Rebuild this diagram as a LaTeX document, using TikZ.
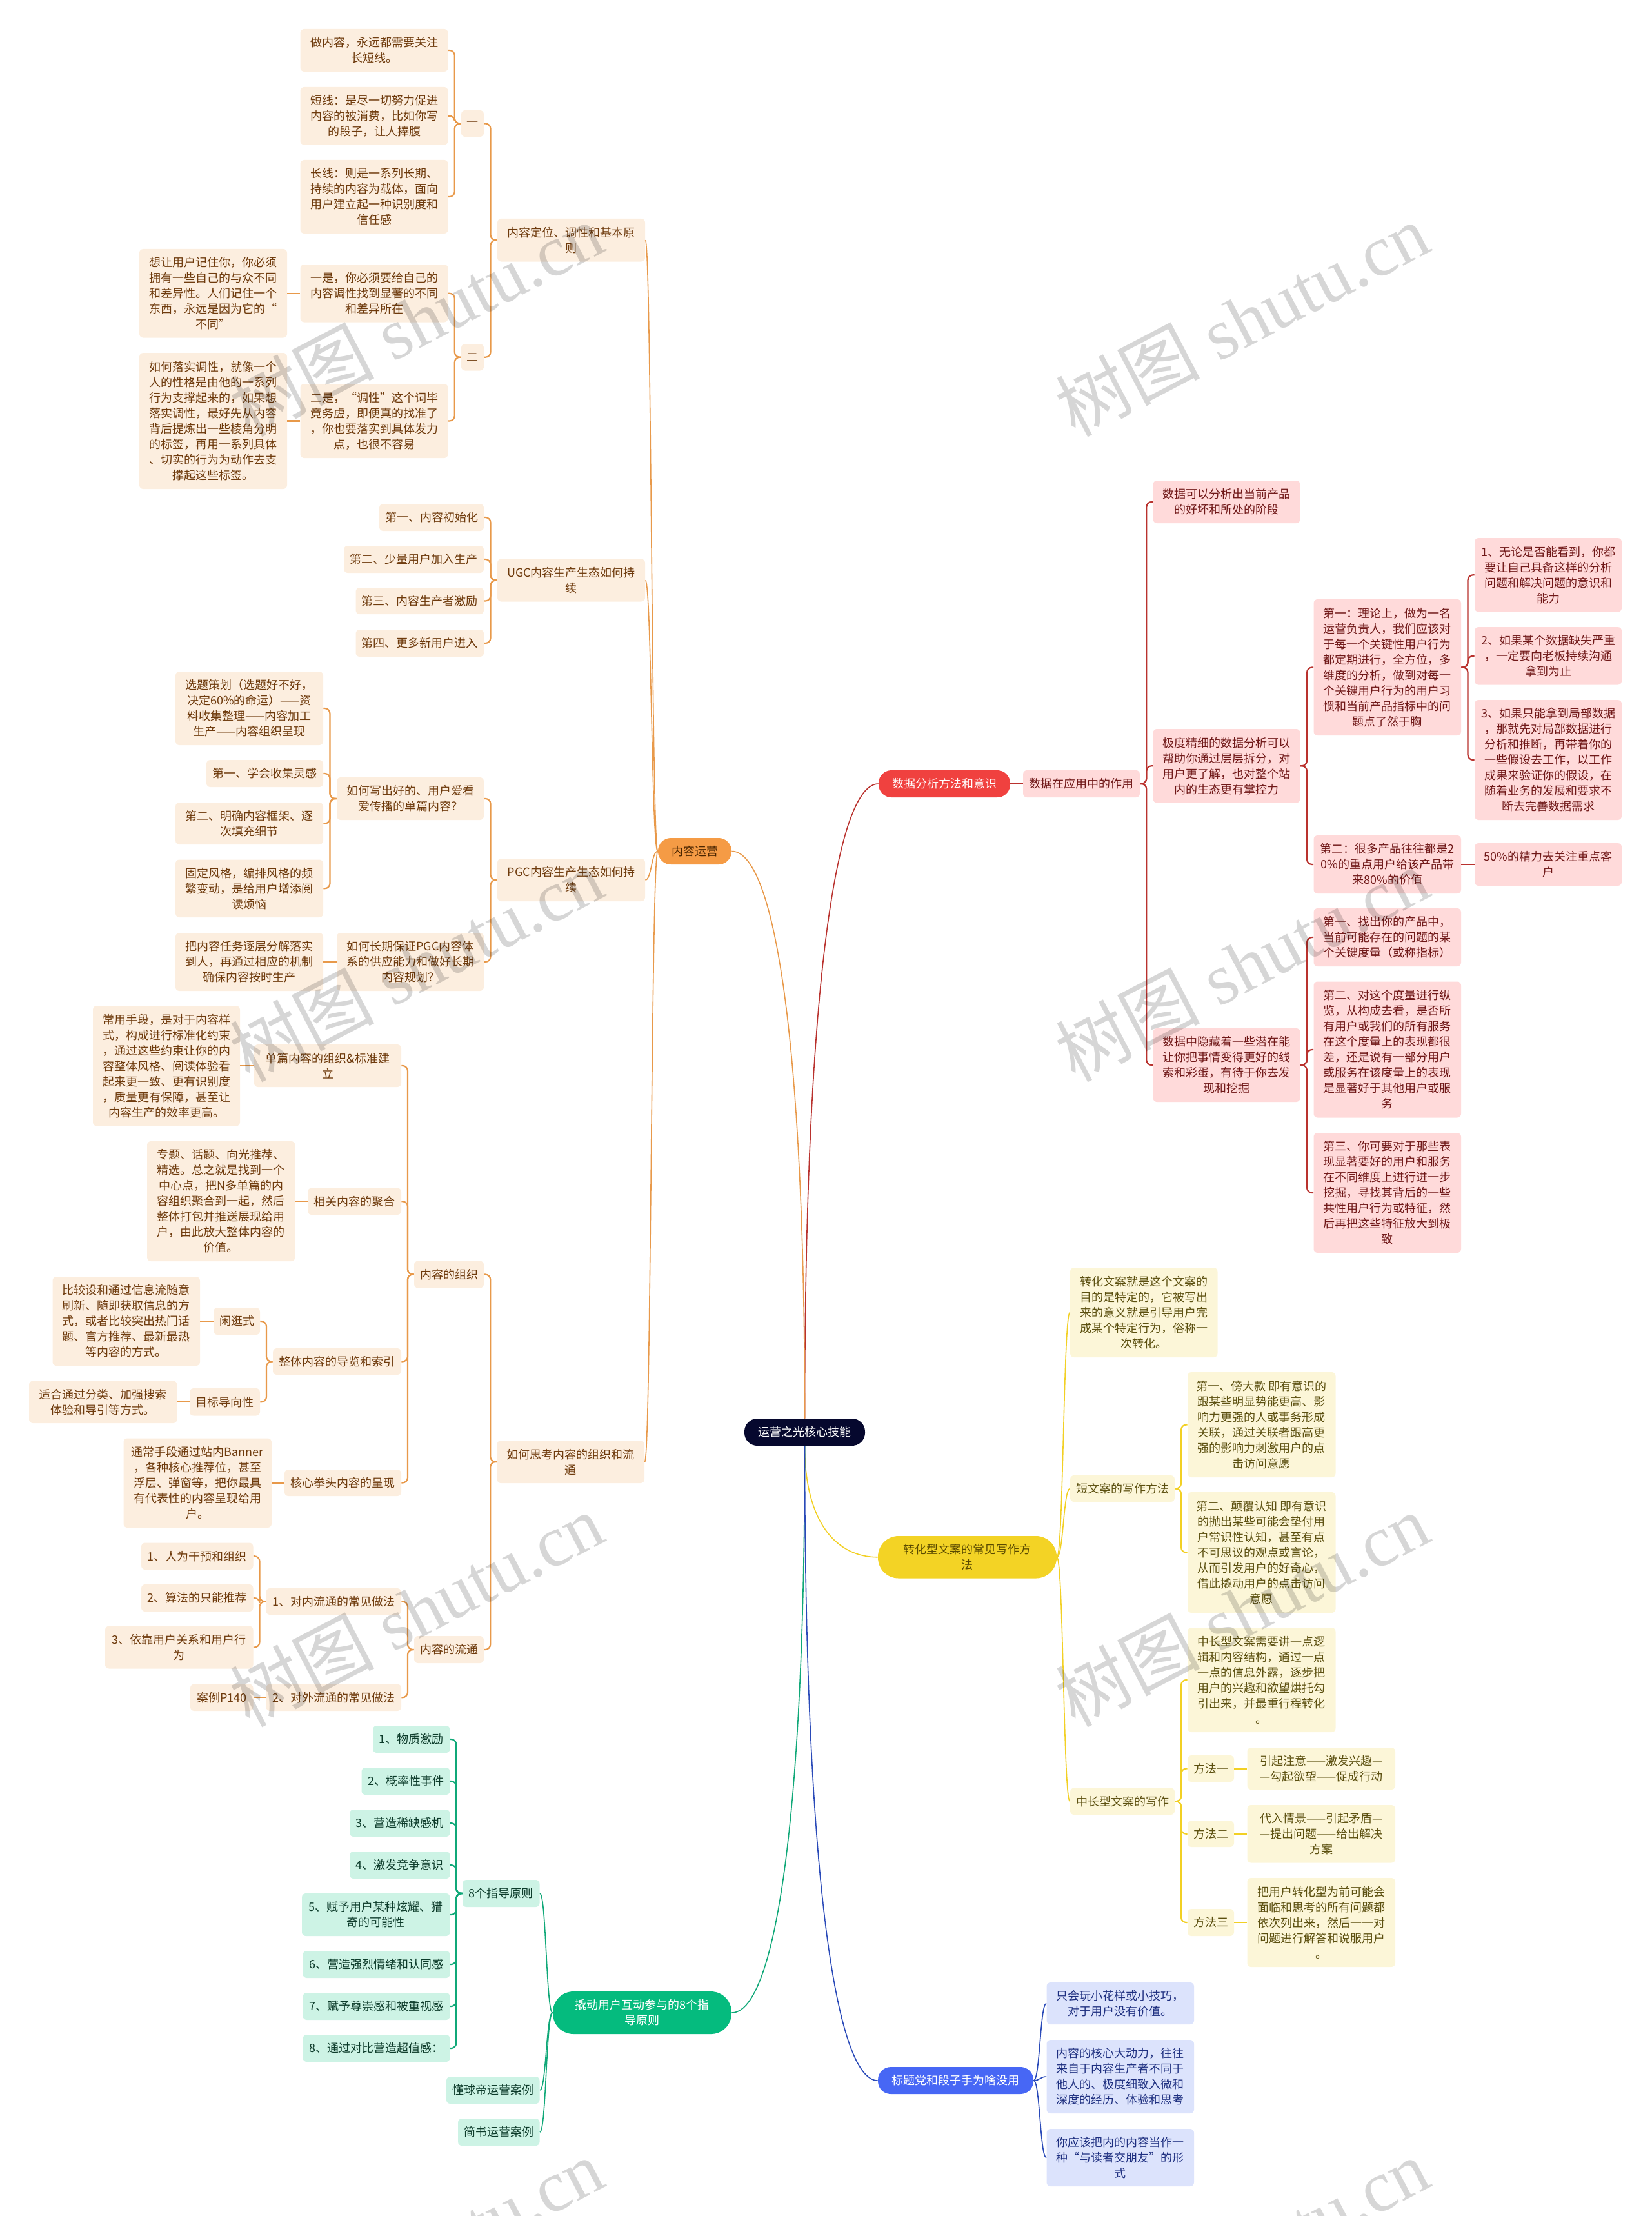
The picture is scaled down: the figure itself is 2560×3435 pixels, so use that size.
\documentclass[tikz,border=0pt]{standalone}
\usepackage{fontspec}
\usetikzlibrary{calc}
\setmainfont{Noto Sans CJK SC}
\newfontfamily\wmlat{Liberation Serif}
\newfontfamily\wmcjk{Noto Sans CJK SC}
\definecolor{oLine}{HTML}{E8994A}\definecolor{oBox}{HTML}{FCEEDF}\definecolor{oText}{HTML}{6E3A0C}\definecolor{oMain}{HTML}{F59B45}\definecolor{oMainT}{HTML}{4A2500}
\definecolor{rLine}{HTML}{B9322E}\definecolor{rBox}{HTML}{FFDADA}\definecolor{rText}{HTML}{701818}\definecolor{rMain}{HTML}{F0413F}
\definecolor{yLine}{HTML}{F2D024}\definecolor{yBox}{HTML}{FCF6D8}\definecolor{yText}{HTML}{5C5010}\definecolor{yMain}{HTML}{F3D325}\definecolor{yMainT}{HTML}{5A4A00}
\definecolor{bLine}{HTML}{2A4AB8}\definecolor{bBox}{HTML}{DCE3FC}\definecolor{bText}{HTML}{1E2F80}\definecolor{bMain}{HTML}{4767F5}
\definecolor{gLine}{HTML}{10A878}\definecolor{gBox}{HTML}{CDF3E5}\definecolor{gText}{HTML}{0C3B2A}\definecolor{gMain}{HTML}{05BB7E}
\definecolor{rootC}{HTML}{06082E}
\tikzset{
 bx/.style={inner sep=0pt,align=center,font=\fontsize{9}{12}\selectfont,rounded corners=3pt},
 ob/.style={bx,fill=oBox,text=oText},
 rb/.style={bx,fill=rBox,text=rText},
 yb/.style={bx,fill=yBox,text=yText},
 bb/.style={bx,fill=bBox,text=bText},
 gb/.style={bx,fill=gBox,text=gText},
 pillA/.style={bx,rounded corners=10pt},
 pillB/.style={bx,rounded corners=16pt},
 wm/.style={text=black,text opacity=.16,rotate=27.6,inner sep=0pt},
 lnk/.style={line width=1.1pt,rounded corners=4pt},
 crv/.style={line width=.8pt},
}
% box by its pixel corners: name, x0, y0, x1, y1, style, text
\newcommand{\bxn}[7]{\node[#6,minimum width={(#4-#2)*0.5pt},minimum height={(#5-#3)*0.5pt}] (#1) at ({(#2+#4)/2},{(#3+#5)/2}) {#7};}
\newcommand{\lk}[3]{\draw[lnk,draw=#1] (#2) -- ($(#2)!.5!(#3 |- #2)$) |- (#3);}
\newcommand{\st}[3]{\draw[line width=1.1pt,draw=#1] (#2) -- (#2 -| #3);}
\newcommand{\cv}[3]{\draw[crv,draw=#1] (#2) .. controls ($(#2)!.5!(#3 |- #2)$) and ($(#3)!.5!(#2 |- #3)$) .. (#3);}
\newcommand{\rc}[3]{\draw[crv,draw=#1] (#2) .. controls ($(#2)!.7!(#2 |- #3)$) and ($(#3)!.55!(#2 |- #3)$) .. (#3);}
\begin{document}
\begin{tikzpicture}[x=0.5pt,y=-0.5pt]
\useasboundingbox (0,0) rectangle (2560,3435);
\clip (0,0) rectangle (2560,3435);
% root
\bxn{root}{1154}{2199}{1341}{2241}{bx,pillA,fill=rootC,text=white}{运营之光核心技能}
% ORANGE
\bxn{o0}{1020}{1299}{1134}{1340}{pillA,fill=oMain,text=oMainT}{内容运营}
\bxn{oa}{771}{339}{1000}{405.5}{ob}{内容定位、调性和基本原\\则}
\bxn{oa1}{715}{171}{750}{212}{ob}{一}
\bxn{oa11}{465.5}{45}{694.5}{111}{ob}{做内容，永远都需要关注\\长短线。}
\bxn{oa12}{465.5}{135}{694.5}{224.5}{ob}{短线：是尽一切努力促进\\内容的被消费，比如你写\\的段子，让人捧腹}
\bxn{oa13}{465.5}{248}{694.5}{362}{ob}{长线：则是一系列长期、\\持续的内容为载体，面向\\用户建立起一种识别度和\\信任感}
\bxn{oa2}{715}{533}{750}{574.5}{ob}{二}
\bxn{oa21}{465.5}{410}{694.5}{499.5}{ob}{一是，你必须要给自己的\\内容调性找到显著的不同\\和差异所在}
\bxn{oa211}{216}{386}{445}{523.5}{ob}{想让用户记住你，你必须\\拥有一些自己的与众不同\\和差异性。人们记住一个\\东西，永远是因为它的“\\不同”}
\bxn{oa22}{465.5}{595}{694.5}{710}{ob}{二是，“调性”这个词毕\\竟务虚，即便真的找准了\\，你也要落实到具体发力\\点，也很不容易}
\bxn{oa221}{216}{547}{445}{758}{ob}{如何落实调性，就像一个\\人的性格是由他的一系列\\行为支撑起来的，如果想\\落实调性，最好先从内容\\背后提炼出一些棱角分明\\的标签，再用一系列具体\\、切实的行为为动作去支\\撑起这些标签。}
\bxn{ob}{771}{866.5}{1000}{932.5}{ob}{UGC内容生产生态如何持\\续}
\bxn{ob1}{588}{781}{750}{823}{ob}{第一、内容初始化}
\bxn{ob2}{533}{846}{750}{888}{ob}{第二、少量用户加入生产}
\bxn{ob3}{551.5}{911}{750}{952}{ob}{第三、内容生产者激励}
\bxn{ob4}{551.5}{976}{750}{1018}{ob}{第四、更多新用户进入}
\bxn{oc}{771}{1331}{1000}{1397}{ob}{PGC内容生产生态如何持\\续}
\bxn{oc1}{522}{1205}{750}{1271}{ob}{如何写出好的、用户爱看\\爱传播的单篇内容？}
\bxn{oc11}{272}{1041}{501}{1155}{ob}{选题策划（选题好不好，\\决定60\%的命运）——资\\料收集整理——内容加工\\生产——内容组织呈现}
\bxn{oc12}{320}{1178}{501}{1220}{ob}{第一、学会收集灵感}
\bxn{oc13}{272}{1244}{501}{1309}{ob}{第二、明确内容框架、逐\\次填充细节}
\bxn{oc14}{272}{1332.5}{501}{1422}{ob}{固定风格，编排风格的频\\繁变动，是给用户增添阅\\读烦恼}
\bxn{oc2}{522}{1446}{750}{1536}{ob}{如何长期保证PGC内容体\\系的供应能力和做好长期\\内容规划？}
\bxn{oc21}{272}{1446}{501}{1536}{ob}{把内容任务逐层分解落实\\到人，再通过相应的机制\\确保内容按时生产}
\bxn{od}{770.5}{2233}{999}{2299}{ob}{如何思考内容的组织和流\\通}
\bxn{od1}{642}{1954.5}{750}{1996.5}{ob}{内容的组织}
\bxn{od11}{394}{1619}{622}{1685}{ob}{单篇内容的组织\&标准建\\立}
\bxn{od111}{144}{1559}{372}{1745.5}{ob}{常用手段，是对于内容样\\式，构成进行标准化约束\\，通过这些约束让你的内\\容整体风格、阅读体验看\\起来更一致、更有识别度\\，质量更有保障，甚至让\\内容生产的效率更高。}
\bxn{od12}{477}{1841.5}{622}{1883}{ob}{相关内容的聚合}
\bxn{od121}{228}{1769}{457.5}{1955}{ob}{专题、话题、向光推荐、\\精选。总之就是找到一个\\中心点，把N多单篇的内\\容组织聚合到一起，然后\\整体打包并推送展现给用\\户，由此放大整体内容的\\价值。}
\bxn{od13}{423}{2090}{622}{2131}{ob}{整体内容的导览和索引}
\bxn{od131}{331}{2027}{403}{2069}{ob}{闲逛式}
\bxn{od1311}{81.5}{1979}{310}{2117}{ob}{比较设和通过信息流随意\\刷新、随即获取信息的方\\式，或者比较突出热门话\\题、官方推荐、最新最热\\等内容的方式。}
\bxn{od132}{294}{2152}{403}{2194.5}{ob}{目标导向性}
\bxn{od1321}{45}{2140.5}{274.5}{2206}{ob}{适合通过分类、加强搜索\\体验和导引等方式。}
\bxn{od14}{441}{2278}{622}{2319}{ob}{核心拳头内容的呈现}
\bxn{od141}{191.5}{2229.5}{421}{2368}{ob}{通常手段通过站内Banner\\，各种核心推荐位，甚至\\浮层、弹窗等，把你最具\\有代表性的内容呈现给用\\户。}
\bxn{od2}{642}{2536}{750}{2578}{ob}{内容的流通}
\bxn{od21}{412.5}{2462}{622}{2503}{ob}{1、对内流通的常见做法}
\bxn{od211}{219}{2391.5}{392.5}{2433}{ob}{1、人为干预和组织}
\bxn{od212}{219}{2456}{392.5}{2498}{ob}{2、算法的只能推荐}
\bxn{od213}{163}{2520.5}{392.5}{2586.5}{ob}{3、依靠用户关系和用户行\\为}
\bxn{od22}{412.5}{2610.5}{622}{2652}{ob}{2、对外流通的常见做法}
\bxn{od221}{295}{2610.5}{392.5}{2652}{ob}{案例P140}
% GREEN
\bxn{g0}{857}{3087}{1134}{3153}{pillB,fill=gMain,text=white}{撬动用户互动参与的8个指\\导原则}
\bxn{ga}{717}{2914}{836.5}{2956}{gb}{8个指导原则}
\bxn{ga1}{578}{2675}{697.5}{2717}{gb}{1、物质激励}
\bxn{ga2}{560.5}{2740}{697.5}{2782}{gb}{2、概率性事件}
\bxn{ga3}{542}{2805}{697.5}{2847}{gb}{3、营造稀缺感机}
\bxn{ga4}{542}{2870}{697.5}{2912}{gb}{4、激发竞争意识}
\bxn{ga5}{468}{2935}{697.5}{3001}{gb}{5、赋予用户某种炫耀、猎\\奇的可能性}
\bxn{ga6}{469.5}{3024}{697.5}{3066}{gb}{6、营造强烈情绪和认同感}
\bxn{ga7}{469.5}{3089}{697.5}{3131}{gb}{7、赋予尊崇感和被重视感}
\bxn{ga8}{469.5}{3154}{697.5}{3196}{gb}{8、通过对比营造超值感：}
\bxn{gb1}{692}{3219}{836.5}{3261}{gb}{懂球帝运营案例}
\bxn{gc1}{710}{3284}{836.5}{3326}{gb}{简书运营案例}
% RED
\bxn{r0}{1362}{1194}{1566}{1236}{pillA,fill=rMain,text=white}{数据分析方法和意识}
\bxn{ra}{1586}{1194}{1767}{1236}{rb}{数据在应用中的作用}
\bxn{ra1}{1787.5}{745}{2015.5}{811}{rb}{数据可以分析出当前产品\\的好坏和所处的阶段}
\bxn{ra2}{1787.5}{1130}{2015.5}{1244.5}{rb}{极度精细的数据分析可以\\帮助你通过层层拆分，对\\用户更了解，也对整个站\\内的生态更有掌控力}
\bxn{ra21}{2036.5}{929}{2265}{1140}{rb}{第一：理论上，做为一名\\运营负责人，我们应该对\\于每一个关键性用户行为\\都定期进行，全方位，多\\维度的分析，做到对每一\\个关键用户行为的用户习\\惯和当前产品指标中的问\\题点了然于胸}
\bxn{ra211}{2286}{834}{2514}{948.5}{rb}{1、无论是否能看到，你都\\要让自己具备这样的分析\\问题和解决问题的意识和\\能力}
\bxn{ra212}{2286}{972}{2514}{1061.5}{rb}{2、如果某个数据缺失严重\\，一定要向老板持续沟通\\拿到为止}
\bxn{ra213}{2286}{1085}{2514}{1271}{rb}{3、如果只能拿到局部数据\\，那就先对局部数据进行\\分析和推断，再带着你的\\一些假设去工作，以工作\\成果来验证你的假设，在\\随着业务的发展和要求不\\断去完善数据需求}
\bxn{ra22}{2036.5}{1295}{2265}{1385}{rb}{第二：很多产品往往都是2\\0\%的重点用户给该产品带\\来80\%的价值}
\bxn{ra221}{2286}{1307}{2514}{1373}{rb}{50\%的精力去关注重点客\\户}
\bxn{ra3}{1787.5}{1594}{2015.5}{1708}{rb}{数据中隐藏着一些潜在能\\让你把事情变得更好的线\\索和彩蛋，有待于你去发\\现和挖掘}
\bxn{ra31}{2036.5}{1408}{2265}{1498}{rb}{第一、找出你的产品中，\\当前可能存在的问题的某\\个关键度量（或称指标）}
\bxn{ra32}{2036.5}{1521.5}{2265}{1732.5}{rb}{第二、对这个度量进行纵\\览，从构成去看，是否所\\有用户或我们的所有服务\\在这个度量上的表现都很\\差，还是说有一部分用户\\或服务在该度量上的表现\\是显著好于其他用户或服\\务}
\bxn{ra33}{2036.5}{1756}{2265}{1942}{rb}{第三、你可要对于那些表\\现显著要好的用户和服务\\在不同维度上进行进一步\\挖掘，寻找其背后的一些\\共性用户行为或特征，然\\后再把这些特征放大到极\\致}
% YELLOW
\bxn{y0}{1361}{2381}{1638}{2446.5}{pillB,fill=yMain,text=yMainT}{转化型文案的常见写作方\\法}
\bxn{ya}{1659}{1965}{1887.5}{2104}{yb}{转化文案就是这个文案的\\目的是特定的，它被写出\\来的意义就是引导用户完\\成某个特定行为，俗称一\\次转化。}
\bxn{yb0}{1659}{2287}{1821}{2328}{yb}{短文案的写作方法}
\bxn{yb1}{1841}{2127}{2070.5}{2290}{yb}{第一、傍大款 即有意识的\\跟某些明显势能更高、影\\响力更强的人或事务形成\\关联，通过关联者跟高更\\强的影响力刺激用户的点\\击访问意愿}
\bxn{yb2}{1841}{2313}{2070.5}{2500}{yb}{第二、颠覆认知 即有意识\\的抛出某些可能会垫付用\\户常识性认知，甚至有点\\不可思议的观点或言论，\\从而引发用户的好奇心，\\借此撬动用户的点击访问\\意愿}
\bxn{yc}{1659}{2771.5}{1821}{2813}{yb}{中长型文案的写作}
\bxn{yc1}{1841}{2523}{2070.5}{2685}{yb}{中长型文案需要讲一点逻\\辑和内容结构，通过一点\\一点的信息外露，逐步把\\用户的兴趣和欲望烘托勾\\引出来，并最重行程转化\\。}
\bxn{yc2}{1841}{2721}{1913}{2762}{yb}{方法一}
\bxn{yc21}{1933.5}{2709}{2163}{2774}{yb}{引起注意——激发兴趣—\\—勾起欲望——促成行动}
\bxn{yc3}{1841}{2822.5}{1913}{2863}{yb}{方法二}
\bxn{yc31}{1933.5}{2798}{2163}{2887.5}{yb}{代入情景——引起矛盾—\\—提出问题——给出解决\\方案}
\bxn{yc4}{1841}{2959}{1913}{3001}{yb}{方法三}
\bxn{yc41}{1933.5}{2911}{2163}{3049}{yb}{把用户转化型为前可能会\\面临和思考的所有问题都\\依次列出来，然后一一对\\问题进行解答和说服用户\\。}
% BLUE
\bxn{b0}{1361}{3204}{1602}{3246}{pillA,fill=bMain,text=white}{标题党和段子手为啥没用}
\bxn{b1}{1622.5}{3073}{1851}{3138}{bb}{只会玩小花样或小技巧，\\对于用户没有价值。}
\bxn{b2}{1622.5}{3162}{1851}{3276}{bb}{内容的核心大动力，往往\\来自于内容生产者不同于\\他人的、极度细致入微和\\深度的经历、体验和思考}
\bxn{b3}{1622.5}{3300}{1851}{3389}{bb}{你应该把内的内容当作一\\种“与读者交朋友”的形\\式}
% root links
\rc{rLine}{root.north}{r0.west}
\rc{oLine}{root.north}{o0.east}
\rc{yLine}{root.south}{y0.west}
\rc{gLine}{root.south}{g0.east}
\rc{bLine}{root.south}{b0.west}
% orange links
\cv{oLine}{o0.west}{oa.east}\cv{oLine}{o0.west}{ob.east}\cv{oLine}{o0.west}{oc.east}\cv{oLine}{o0.west}{od.east}
\lk{oLine}{oa.west}{oa1.east}\lk{oLine}{oa.west}{oa2.east}
\lk{oLine}{oa1.west}{oa11.east}\lk{oLine}{oa1.west}{oa12.east}\lk{oLine}{oa1.west}{oa13.east}
\lk{oLine}{oa2.west}{oa21.east}\lk{oLine}{oa2.west}{oa22.east}
\st{oLine}{oa21.west}{oa211.east}\st{oLine}{oa22.west}{oa221.east}
\lk{oLine}{ob.west}{ob1.east}\lk{oLine}{ob.west}{ob2.east}\lk{oLine}{ob.west}{ob3.east}\lk{oLine}{ob.west}{ob4.east}
\lk{oLine}{oc.west}{oc1.east}\lk{oLine}{oc.west}{oc2.east}
\lk{oLine}{oc1.west}{oc11.east}\lk{oLine}{oc1.west}{oc12.east}\lk{oLine}{oc1.west}{oc13.east}\lk{oLine}{oc1.west}{oc14.east}
\st{oLine}{oc2.west}{oc21.east}
\lk{oLine}{od.west}{od1.east}\lk{oLine}{od.west}{od2.east}
\lk{oLine}{od1.west}{od11.east}\lk{oLine}{od1.west}{od12.east}\lk{oLine}{od1.west}{od13.east}\lk{oLine}{od1.west}{od14.east}
\st{oLine}{od11.west}{od111.east}\st{oLine}{od12.west}{od121.east}
\lk{oLine}{od13.west}{od131.east}\lk{oLine}{od13.west}{od132.east}
\st{oLine}{od131.west}{od1311.east}\st{oLine}{od132.west}{od1321.east}
\st{oLine}{od14.west}{od141.east}
\lk{oLine}{od2.west}{od21.east}\lk{oLine}{od2.west}{od22.east}
\lk{oLine}{od21.west}{od211.east}\lk{oLine}{od21.west}{od212.east}\lk{oLine}{od21.west}{od213.east}
\st{oLine}{od22.west}{od221.east}
% green links
\cv{gLine}{g0.west}{ga.east}\cv{gLine}{g0.west}{gb1.east}\cv{gLine}{g0.west}{gc1.east}
\lk{gLine}{ga.west}{ga1.east}\lk{gLine}{ga.west}{ga2.east}\lk{gLine}{ga.west}{ga3.east}\lk{gLine}{ga.west}{ga4.east}
\lk{gLine}{ga.west}{ga5.east}\lk{gLine}{ga.west}{ga6.east}\lk{gLine}{ga.west}{ga7.east}\lk{gLine}{ga.west}{ga8.east}
% red links
\st{rLine}{r0.east}{ra.west}
\lk{rLine}{ra.east}{ra1.west}\lk{rLine}{ra.east}{ra2.west}\lk{rLine}{ra.east}{ra3.west}
\lk{rLine}{ra2.east}{ra21.west}\lk{rLine}{ra2.east}{ra22.west}
\lk{rLine}{ra21.east}{ra211.west}\lk{rLine}{ra21.east}{ra212.west}\lk{rLine}{ra21.east}{ra213.west}
\st{rLine}{ra22.east}{ra221.west}
\lk{rLine}{ra3.east}{ra31.west}\lk{rLine}{ra3.east}{ra32.west}\lk{rLine}{ra3.east}{ra33.west}
% yellow links
\cv{yLine}{y0.east}{ya.west}\cv{yLine}{y0.east}{yb0.west}\cv{yLine}{y0.east}{yc.west}
\lk{yLine}{yb0.east}{yb1.west}\lk{yLine}{yb0.east}{yb2.west}
\lk{yLine}{yc.east}{yc1.west}\lk{yLine}{yc.east}{yc2.west}\lk{yLine}{yc.east}{yc3.west}\lk{yLine}{yc.east}{yc4.west}
\st{yLine}{yc2.east}{yc21.west}\st{yLine}{yc3.east}{yc31.west}\st{yLine}{yc4.east}{yc41.west}
% blue links
\cv{bLine}{b0.east}{b1.west}\cv{bLine}{b0.east}{b2.west}\cv{bLine}{b0.east}{b3.west}
% watermarks
\foreach \wx/\wy/\wn in {645/495/a,1925/495/b,645/1495/c,1925/1495/d,645/2495/e,1925/2495/f,645/3495/g,1925/3495/h}{
 \node[wm] (wm\wn) at (\wx,\wy) {\fontsize{56}{56}\selectfont\wmcjk 树图\wmlat{} shutu.cn};
}
\end{tikzpicture}
\end{document}
